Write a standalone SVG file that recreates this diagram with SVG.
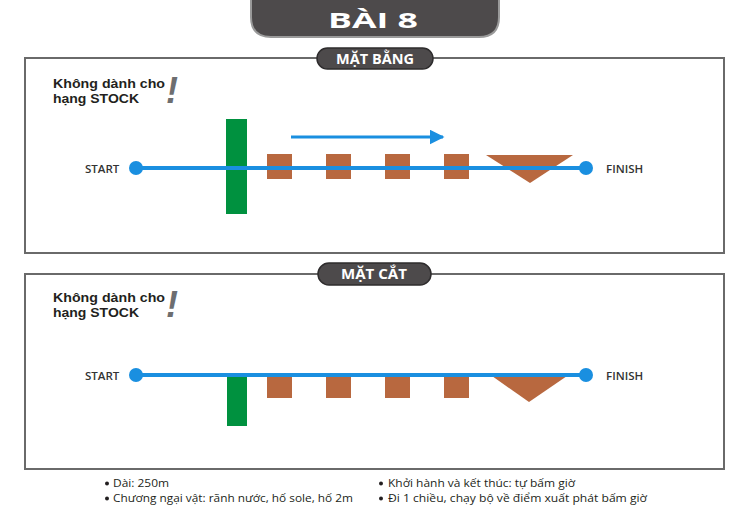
<svg xmlns="http://www.w3.org/2000/svg" width="750" height="529" viewBox="0 0 750 529">
<defs>
<style>
.panel{fill:#fff;stroke:#6a6a6a;stroke-width:2}
.tab{fill:#4d4a4b;stroke:#2e2c2d;stroke-width:1.5}
.tabtxt{font-family:"Open Sans","DejaVu Sans",sans-serif;font-weight:bold;fill:#fff;text-anchor:middle}
.warn{font-family:"Liberation Sans",Arial,sans-serif;font-weight:bold;font-size:13px;fill:#231f20}
.excl{font-family:"Liberation Sans",sans-serif;font-weight:bold;font-style:italic;font-size:36px;fill:#6d6e70}
.lbl{font-family:"Open Sans","Liberation Sans",sans-serif;font-weight:600;font-size:11.5px;fill:#333}
.note{font-family:"Open Sans","Liberation Sans",sans-serif;font-size:11px;fill:#231f20}
.track{stroke:#1a8fe0;stroke-width:4;fill:none}
.dot{fill:#1a8fe0}
.green{fill:#00913f}
.brown{fill:#b8683f}
</style>
<marker id="ah" viewBox="0 0 10 10" refX="9" refY="5" markerWidth="5" markerHeight="5" markerUnits="strokeWidth" orient="auto">
<path d="M0,0 L10,5 L0,10 z" fill="#1a8fe0"/>
</marker>
</defs>
<rect width="750" height="529" fill="#fff"/>

<g id="title">
<path d="M251,-5 L251,17 Q251,37 271,37 L479,37 Q499,37 499,17 L499,-5 Z" fill="#4d4a4b" stroke="#9a9a9a" stroke-width="2"/>
<text x="373" y="28" class="tabtxt" font-size="21" textLength="90" lengthAdjust="spacingAndGlyphs">BÀI 8</text>
</g>

<g id="plan-panel">
<rect x="25" y="58" width="699" height="195" class="panel"/>
<rect x="317" y="48" width="116" height="21" rx="10.5" class="tab"/>
<text x="375" y="63.5" class="tabtxt" font-size="13.5" textLength="78" lengthAdjust="spacingAndGlyphs">MẶT BẰNG</text>
<text x="53" y="88" class="warn" textLength="112" lengthAdjust="spacingAndGlyphs">Không dành cho</text>
<text x="53" y="103" class="warn" textLength="86" lengthAdjust="spacingAndGlyphs">hạng STOCK</text>
<text x="166" y="103" class="excl">!</text>
</g>

<g id="plan-start"><text x="85" y="173" class="lbl">START</text></g>
<g id="plan-finish"><text x="606" y="173" class="lbl">FINISH</text></g>
<g id="plan-water"><rect x="226" y="119" width="21" height="95" class="green"/></g>
<g id="plan-holes">
<rect x="267" y="154" width="25" height="25" class="brown"/>
<rect x="326" y="154" width="25" height="25" class="brown"/>
<rect x="385" y="154" width="25" height="25" class="brown"/>
<rect x="444" y="154" width="25" height="25" class="brown"/>
</g>
<g id="plan-pit"><polygon points="486,155 573,155 530,183" class="brown"/></g>

<g id="section-panel">
<rect x="25" y="274" width="699" height="195" class="panel"/>
<rect x="318" y="263" width="113" height="22" rx="11" class="tab"/>
<text x="374" y="279" class="tabtxt" font-size="13.5" textLength="66" lengthAdjust="spacingAndGlyphs">MẶT CẮT</text>
<text x="53" y="302" class="warn" textLength="112" lengthAdjust="spacingAndGlyphs">Không dành cho</text>
<text x="53" y="317" class="warn" textLength="86" lengthAdjust="spacingAndGlyphs">hạng STOCK</text>
<text x="166" y="317" class="excl">!</text>
</g>

<g id="section-start"><text x="85" y="380" class="lbl">START</text></g>
<g id="section-finish"><text x="606" y="380" class="lbl">FINISH</text></g>
<g id="section-water"><rect x="227" y="376" width="20" height="50" class="green"/></g>
<g id="section-holes">
<rect x="267" y="376" width="25" height="22" class="brown"/>
<rect x="326" y="376" width="25" height="22" class="brown"/>
<rect x="385" y="376" width="25" height="22" class="brown"/>
<rect x="444" y="376" width="25" height="22" class="brown"/>
</g>
<g id="section-pit"><polygon points="492,376 567,376 529,402" class="brown"/></g>

<g id="connectors">
<line x1="136" y1="168" x2="586" y2="168" class="track"/>
<circle cx="136" cy="168" r="7" class="dot"/>
<circle cx="586" cy="168" r="7" class="dot"/>
<line x1="291" y1="137" x2="443" y2="137" stroke="#1a8fe0" stroke-width="3" marker-end="url(#ah)"/>
<line x1="136" y1="375" x2="586" y2="375" class="track"/>
<circle cx="136" cy="375" r="7" class="dot"/>
<circle cx="586" cy="375" r="7" class="dot"/>
</g>

<g id="notes">
<circle cx="107" cy="483.5" r="2" fill="#231f20"/>
<text x="113" y="487" class="note" textLength="56" lengthAdjust="spacingAndGlyphs">Dài: 250m</text>
<circle cx="107" cy="498.5" r="2" fill="#231f20"/>
<text x="113" y="502" class="note" textLength="240" lengthAdjust="spacingAndGlyphs">Chương ngại vật: rãnh nước, hố sole, hố 2m</text>
<circle cx="381" cy="483.5" r="2" fill="#231f20"/>
<text x="388" y="487" class="note" textLength="187" lengthAdjust="spacingAndGlyphs">Khởi hành và kết thúc: tự bấm giờ</text>
<circle cx="381" cy="498.5" r="2" fill="#231f20"/>
<text x="388" y="502" class="note" textLength="259" lengthAdjust="spacingAndGlyphs">Đi 1 chiều, chạy bộ về điểm xuất phát bấm giờ</text>
</g>
</svg>
